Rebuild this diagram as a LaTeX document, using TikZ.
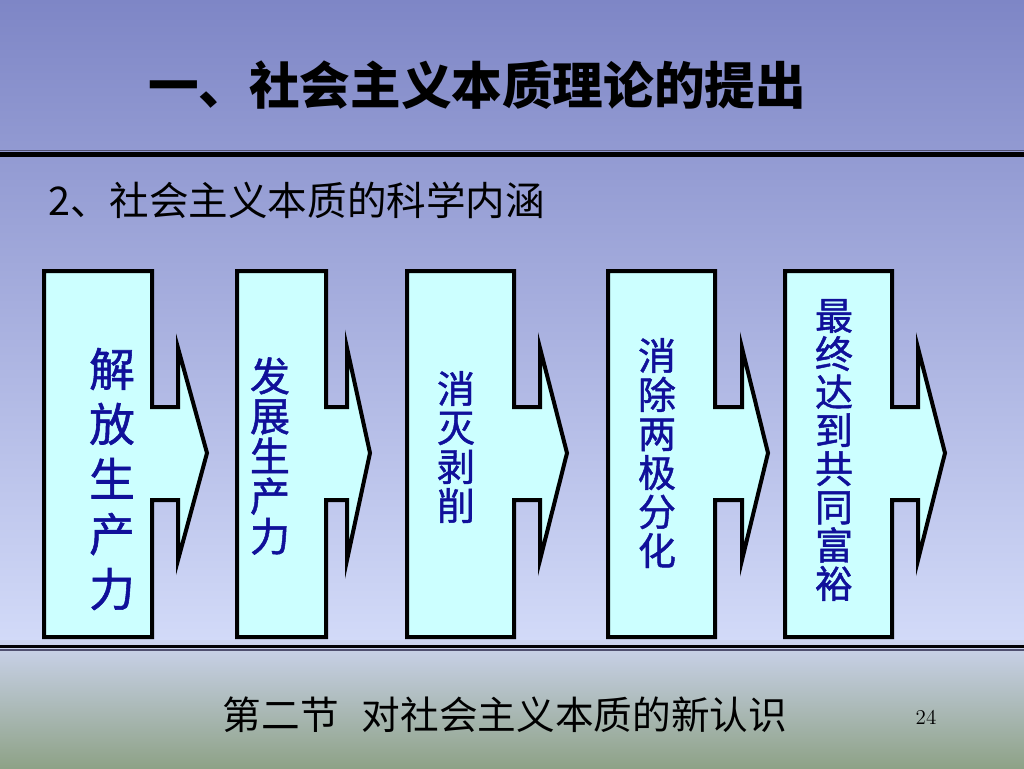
\documentclass[tikz,border=0pt]{standalone}
\usepackage{fontspec}
\newfontfamily\cjk{Noto Sans CJK SC}
\newfontfamily\cjkheavy[FakeBold=1.2]{Noto Sans CJK SC}
\definecolor{bgtop}{HTML}{7E86C6}
\definecolor{bgmid}{HTML}{D2DAF8}
\definecolor{bgfoot}{HTML}{CCD4EE}
\definecolor{bgbot}{HTML}{8EA287}
\definecolor{boxfill}{HTML}{CCFFFF}
\definecolor{boxtext}{HTML}{10109A}
\definecolor{rulegray}{HTML}{505070}

\begin{document}
\begin{tikzpicture}[x=0.02cm,y=-0.02cm,
  flowshape/.style={draw=black,line width=0.08cm,fill=boxfill,line join=miter},
  boxlabel/.style={text=boxtext,align=center,inner sep=0pt}]
\useasboundingbox (0,0) rectangle (1024,768);
\shade[top color=bgtop,bottom color=bgmid] (0,0) rectangle (1024,640);
\shade[top color=bgfoot,bottom color=bgbot] (0,640) rectangle (1024,768);
% rules
\draw[rulegray,line width=0.02cm] (0,150.5)--(1024,150.5);
\draw[black,line width=0.1cm] (0,154.5)--(1024,154.5);
\draw[black,line width=0.06cm] (0,646.5)--(1024,646.5);
\draw[rulegray,line width=0.04cm] (0,650)--(1024,650);
% headings
\node[font=\cjk\bfseries\fontsize{28.8}{30}\selectfont] (title) at (477,85) {一、社会主义本质理论的提出};
\node[font=\cjk\fontsize{22.5}{24}\selectfont,anchor=west,inner sep=0pt] (subtitle) at (48,200) {2、社会主义本质的科学内涵};
% arrow boxes
\foreach \l/\r/\n/\t in {44/152/178/207,237/326/347/370,407/514/540/567,608/715/742/768,785/892/918/945}
  \draw[flowshape] (\l,271) -- (\r,271) -- (\r,407) -- (\n,407) -- (\n,348) -- (\t,453)
    -- (\n,560) -- (\n,500) -- (\r,500) -- (\r,637) -- (\l,637) -- cycle;
\node[boxlabel,font=\cjkheavy\fontsize{26}{31.3}\selectfont] (jiefang) at (112,479) {解\\放\\生\\产\\力};
\node[boxlabel,font=\cjkheavy\fontsize{22.8}{22.8}\selectfont] (fazhan) at (270,456) {发\\展\\生\\产\\力};
\node[boxlabel,font=\cjkheavy\fontsize{21.6}{22.2}\selectfont] (xiaomie) at (456,447) {消\\灭\\剥\\削};
\node[boxlabel,font=\cjkheavy\fontsize{21.6}{22.2}\selectfont] (xiaochu) at (657,453) {消\\除\\两\\极\\分\\化};
\node[boxlabel,font=\cjkheavy\fontsize{21.6}{21.8}\selectfont] (zuizhong) at (834,450) {最\\终\\达\\到\\共\\同\\富\\裕};
% footer
\node[font=\cjk\fontsize{22}{24}\selectfont] (footer) at (505,715) {第二节\hspace{0.6em}对社会主义本质的新认识};
\node[font=\fontsize{12}{14}\selectfont] (pagenum) at (926,717) {24};
\end{tikzpicture}
\end{document}
